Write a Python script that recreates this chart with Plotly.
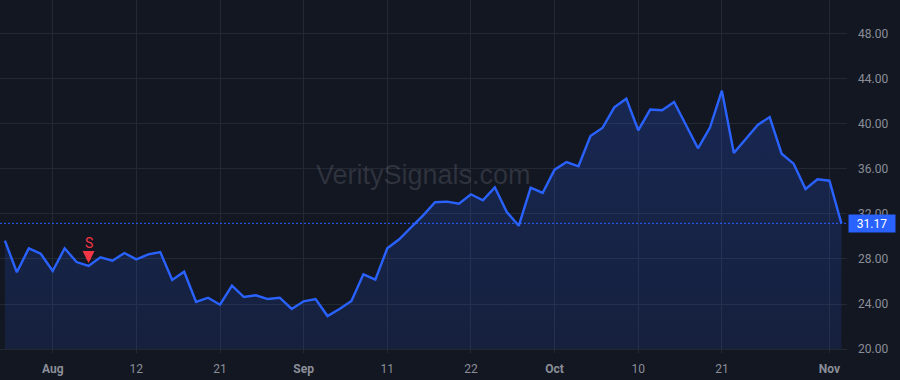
import plotly.graph_objects as go

prices = [29.63, 26.82, 28.95, 28.47, 26.93, 28.95, 27.73, 27.38, 28.15, 27.85,
          28.53, 27.97, 28.41, 28.62, 26.13, 26.87, 24.18, 24.56, 23.94, 25.63,
          24.62, 24.77, 24.44, 24.56, 23.56, 24.24, 24.44, 22.93, 23.56, 24.27,
          26.64, 26.16, 28.95, 29.75, 30.82, 31.88, 33.04, 33.10, 32.92, 33.75,
          33.21, 34.37, 32.18, 30.95, 34.34, 33.87, 35.94, 36.62, 36.24, 38.93,
          39.64, 41.48, 42.25, 39.44, 41.28, 41.22, 41.96, 39.90, 37.84, 39.68,
          42.96, 37.42, 38.69, 39.91, 40.62, 37.36, 36.47, 34.22, 35.08, 34.96,
          31.17]
tick_index = [4, 11, 18, 25, 32, 39, 46, 53, 60, 69]
tick_labels = ["Aug", "12", "21", "Sep", "11", "22", "Oct", "10", "21", "Nov"]
month_labels = {"Aug", "Sep", "Oct", "Nov"}
y_ticks = [20, 24, 28, 32, 36, 40, 44, 48]
signal_index = 7
signal_label = "S"
watermark = "VeritySignals.com"

BG = "#131722"
GRID = "#242833"
BLUE = "#2962ff"
RED = "#f23645"
FONT = "Roboto, Liberation Sans, Arial, sans-serif"

xs = list(range(len(prices)))
last = prices[-1]

fig = go.Figure()
fig.add_trace(go.Scatter(
    x=xs, y=prices, mode="lines",
    line=dict(color=BLUE, width=2.4),
    fill="tozeroy",
    fillgradient=dict(type="vertical",
                      colorscale=[[0, "rgba(41,98,255,0.04)"], [1, "rgba(41,98,255,0.22)"]]),
    hoverinfo="skip",
))

fig.add_hline(y=last, line=dict(color=BLUE, width=1, dash="2px,2px"))

ticktext = [f"<b>{t}</b>" if t in month_labels else t for t in tick_labels]

fig.update_layout(
    width=900, height=380,
    margin=dict(l=0, r=53, t=0, b=31),
    paper_bgcolor=BG, plot_bgcolor=BG,
    showlegend=False,
    font=dict(family=FONT, size=12, color="#8a8e98"),
    xaxis=dict(
        range=[-0.41, len(prices) - 1 + 0.47],
        tickmode="array", tickvals=tick_index, ticktext=ticktext,
        showgrid=True, gridcolor=GRID, gridwidth=1,
        ticks="outside", ticklen=3, tickcolor=GRID,
        showline=True, linecolor=GRID, linewidth=1,
        zeroline=False, ticklabelstandoff=6,
        tickfont=dict(size=12, color="#8a8e98"),
    ),
    yaxis=dict(
        range=[20, 51.02], side="right",
        tickmode="array", tickvals=y_ticks,
        ticktext=[f"{v:.2f}" for v in y_ticks],
        showgrid=True, gridcolor=GRID, gridwidth=1,
        zeroline=False, showline=False, ticks="",
        ticklabelstandoff=10,
        tickfont=dict(size=12, color="#8a8e98"),
    ),
)

# watermark
fig.add_annotation(
    text=watermark, xref="paper", yref="paper", x=0.5, y=0.5,
    xanchor="center", yanchor="middle", showarrow=False,
    font=dict(family="Liberation Sans, Arial, sans-serif", size=27, color="rgba(120,123,134,0.28)"),
)

# signal marker
fig.add_annotation(
    x=signal_index, y=prices[signal_index], xref="x", yref="y",
    text=signal_label, showarrow=True, ax=0, ay=-23,
    arrowhead=2, arrowsize=0.6, arrowwidth=4, arrowcolor=RED, standoff=3,
    font=dict(family=FONT, size=14, color=RED),
)

# last price label
fig.add_annotation(
    x=1, y=last, xref="paper", yref="y", xanchor="left", yanchor="middle",
    xshift=1, text=f"{last:.2f}", showarrow=False,
    bgcolor=BLUE, width=42, height=13, borderpad=2, align="center",
    font=dict(family=FONT, size=12, color="#ffffff"),
)

fig.write_html("out.html")
